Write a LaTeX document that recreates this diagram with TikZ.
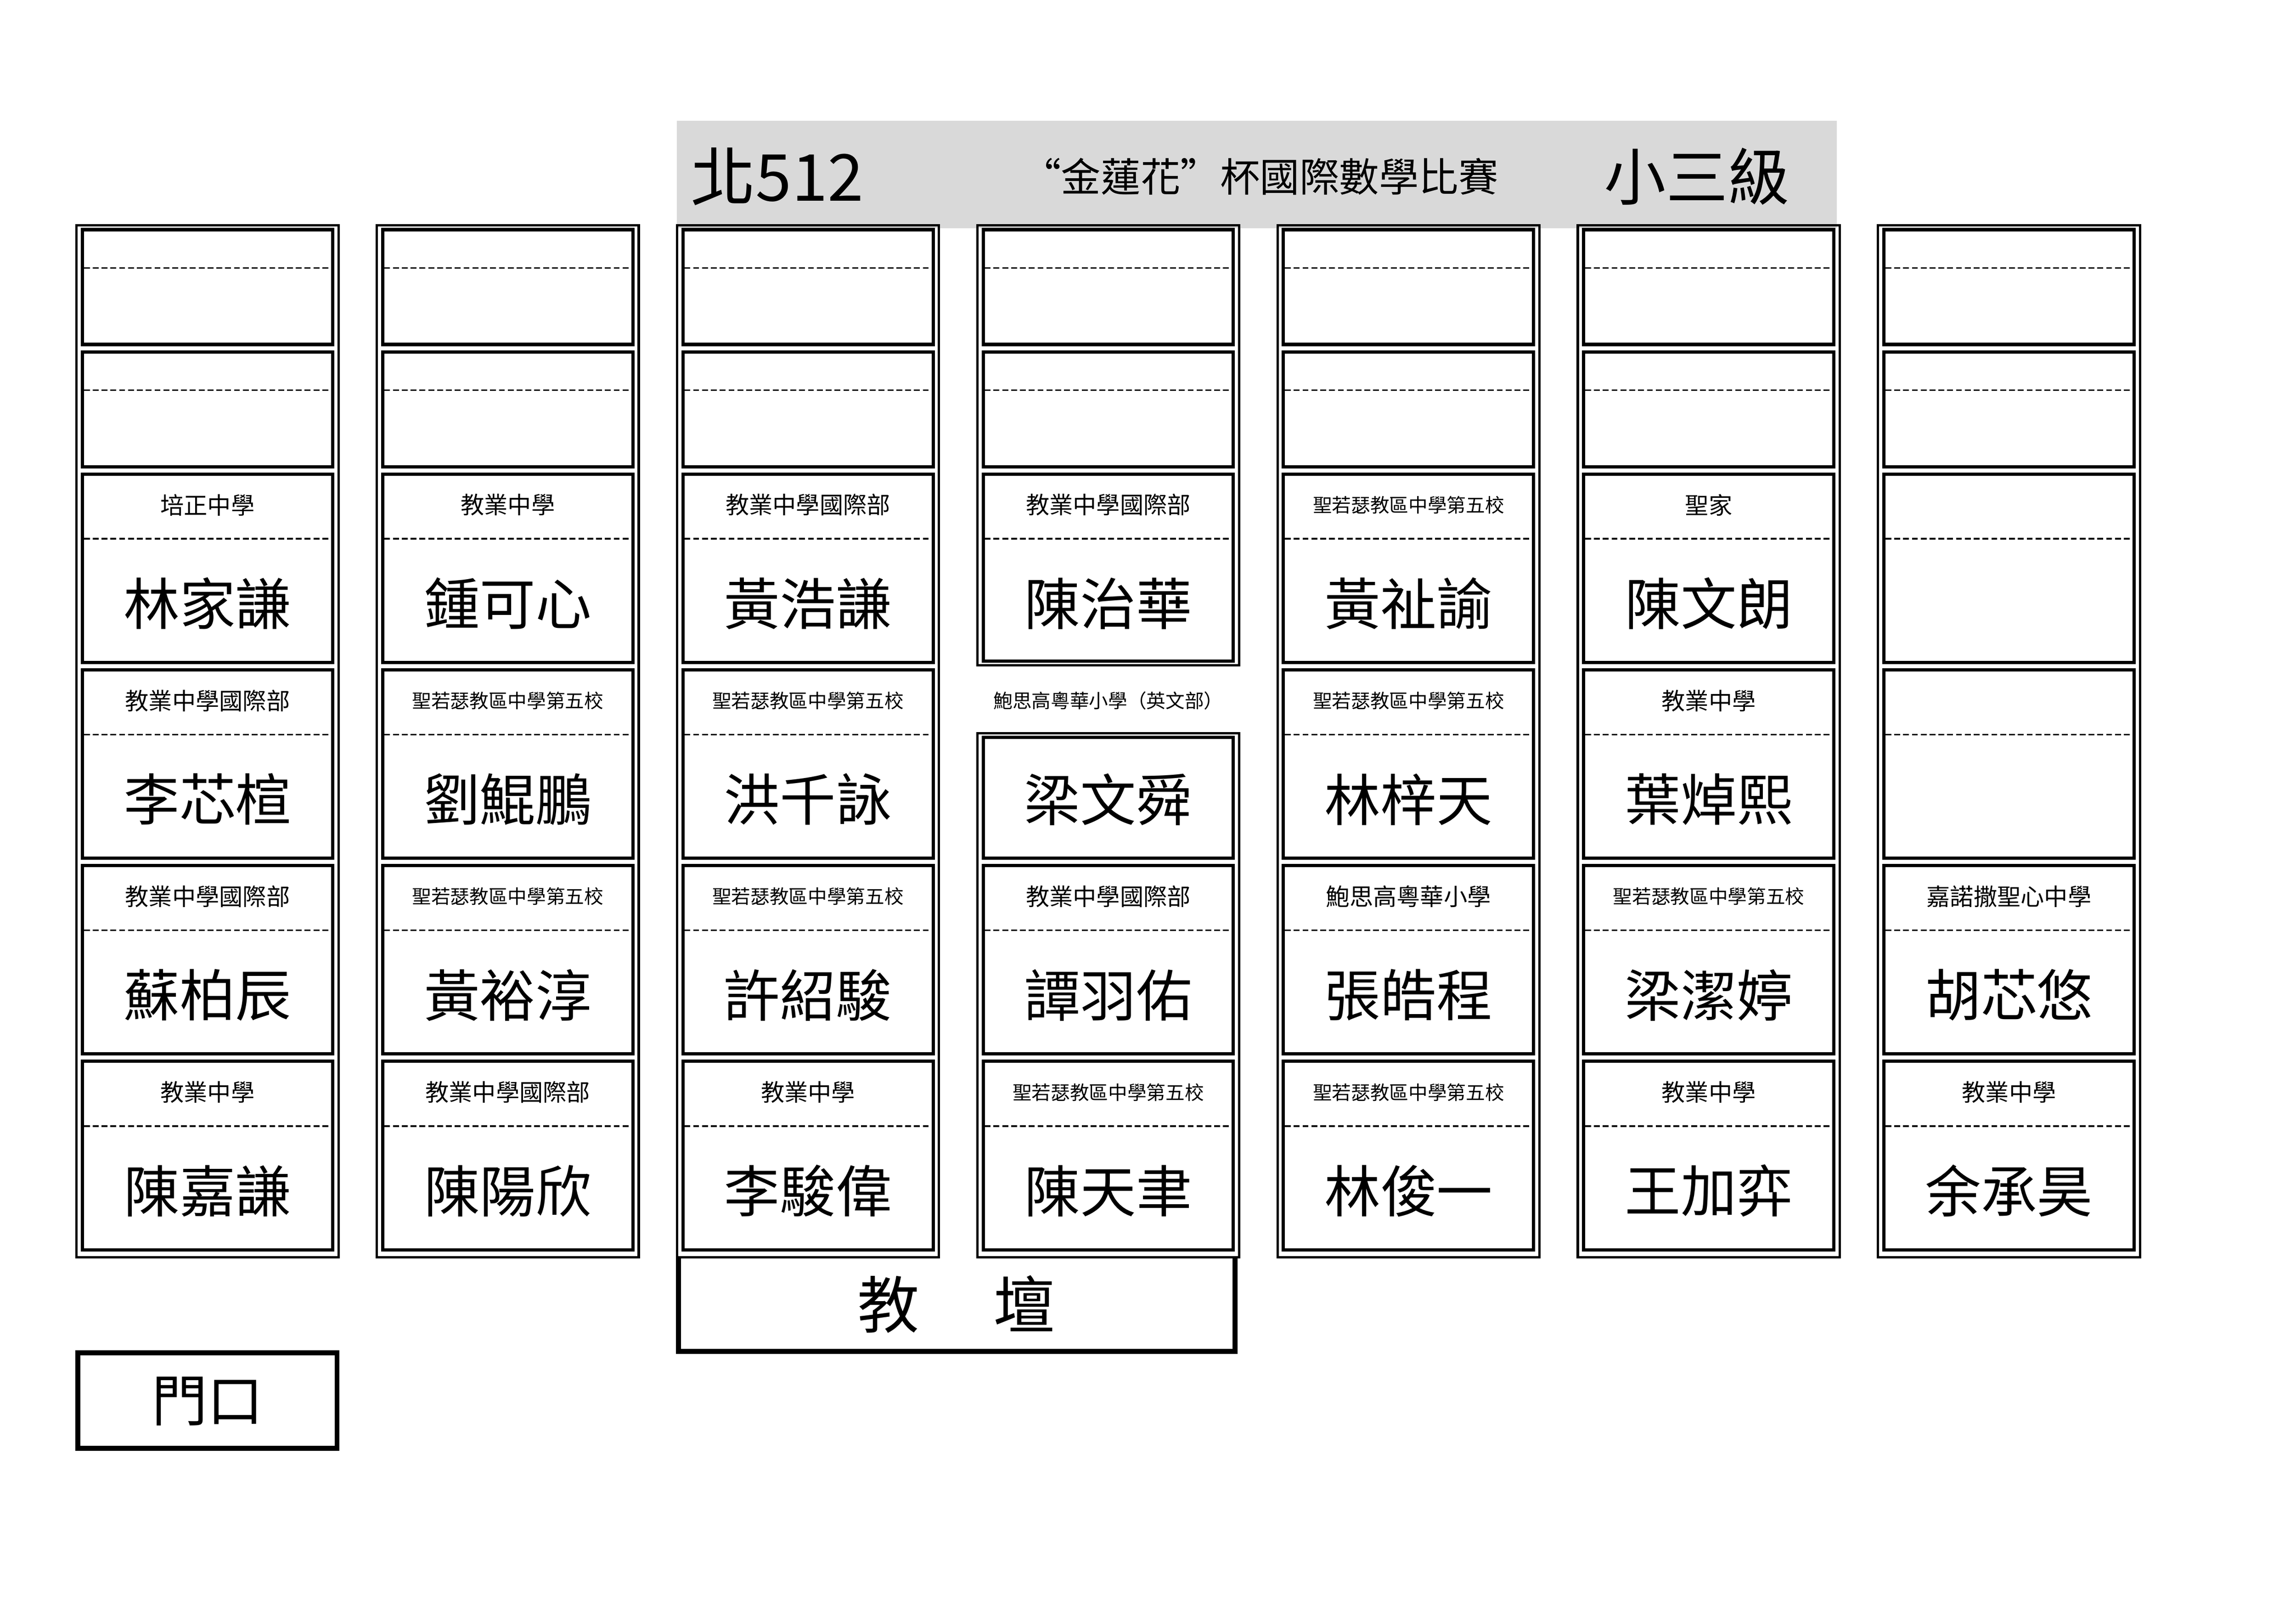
\documentclass[tikz,border=0pt]{standalone}
\usepackage{fontspec}
\setmainfont{Noto Sans CJK TC}
\usepackage{tikz}

\newcommand\fs[1]{\fontsize{#1}{#1}\selectfont}
\newcommand\sm{\fs{13}}
% outer double frame of one column
\newcommand\colframe[3]{\draw[outerline] (#1,-#2) rectangle (#1+178,-#3);}
% empty seat
\newcommand\blankseat[2]{%
  \draw[innerline] (#1+4,-#2-3) rectangle (#1+174,-#2-81);
  \draw[cutline] (#1+5,-#2-29) -- (#1+173,-#2-29);}
% seat with school and name
\newcommand\seat[5]{%
  \draw[innerline] (#1+4,-#2-3) rectangle (#1+174,-#2-131);
  \draw[cutline] (#1+5,-#2-47) -- (#1+173,-#2-47);
  \node[school] (s#5) at (#1+89,-#2-24) {#3};
  \node[pupil] (n#5) at (#1+89,-#2-91) {#4};}

\begin{document}
\begin{tikzpicture}[x=1pt,y=1pt,
    outerline/.style={line width=1.6pt},
    innerline/.style={line width=2.2pt},
    cutline/.style={line width=1.1pt,dash pattern=on 4pt off 2pt},
    school/.style={font=\fs{16}},
    pupil/.style={font=\fs{38}},
    thickbox/.style={line width=3.4pt}]
  \useasboundingbox (0,0) rectangle (1560,-1103);
  \fill[gray!30] (460,-82) rectangle (1248,-155);
  \node[anchor=west,font=\fs{44}] (room) at (466,-120) {北512};
  \node[font=\fs{27}] (contest) at (856,-120) {“金蓮花”杯國際數學比賽};
  \node[font=\fs{42}] (grade) at (1153,-120) {小三級};

  % columns
  \foreach \x in {52,256,460,868,1072,1276} {
    \colframe{\x}{153}{854}
    \blankseat{\x}{153}
    \blankseat{\x}{236}
  }
  \colframe{664}{153}{452}
  \colframe{664}{498}{854}
  \blankseat{664}{153}
  \blankseat{664}{236}

  \seat{52}{319}{培正中學}{林家謙}{11}
  \seat{52}{452}{教業中學國際部}{李芯楦}{12}
  \seat{52}{585}{教業中學國際部}{蘇柏辰}{13}
  \seat{52}{718}{教業中學}{陳嘉謙}{14}

  \seat{256}{319}{教業中學}{鍾可心}{21}
  \seat{256}{452}{\sm 聖若瑟教區中學第五校}{劉鯤鵬}{22}
  \seat{256}{585}{\sm 聖若瑟教區中學第五校}{黃裕淳}{23}
  \seat{256}{718}{教業中學國際部}{陳陽欣}{24}

  \seat{460}{319}{教業中學國際部}{黃浩謙}{31}
  \seat{460}{452}{\sm 聖若瑟教區中學第五校}{洪千詠}{32}
  \seat{460}{585}{\sm 聖若瑟教區中學第五校}{許紹駿}{33}
  \seat{460}{718}{教業中學}{李駿偉}{34}

  \draw[innerline] (668,-322) rectangle (838,-449);
  \draw[cutline] (669,-366) -- (837,-366);
  \node[school] (s41) at (753,-343) {教業中學國際部};
  \node[pupil] (n41) at (753,-410) {陳治華};
  \node[school,font=\sm] (s42) at (753,-476) {鮑思高粵華小學（英文部）};
  \draw[innerline] (668,-501) rectangle (838,-583);
  \draw[cutline] (664,-498) -- (842,-498);
  \node[pupil] (n42) at (753,-543) {梁文舜};
  \seat{664}{585}{教業中學國際部}{譚羽佑}{43}
  \seat{664}{718}{\sm 聖若瑟教區中學第五校}{陳天聿}{44}

  \seat{868}{319}{\sm 聖若瑟教區中學第五校}{黃祉諭}{51}
  \seat{868}{452}{\sm 聖若瑟教區中學第五校}{林梓天}{52}
  \seat{868}{585}{鮑思高粵華小學}{張皓程}{53}
  \seat{868}{718}{\sm 聖若瑟教區中學第五校}{林俊一}{54}

  \seat{1072}{319}{聖家}{陳文朗}{61}
  \seat{1072}{452}{教業中學}{葉焯熙}{62}
  \seat{1072}{585}{\sm 聖若瑟教區中學第五校}{梁潔婷}{63}
  \seat{1072}{718}{教業中學}{王加弈}{64}

  \seat{1276}{319}{}{}{71}
  \seat{1276}{452}{}{}{72}
  \seat{1276}{585}{嘉諾撒聖心中學}{胡芯悠}{73}
  \seat{1276}{718}{教業中學}{余承昊}{74}

  % podium and door
  \draw[thickbox] (461,-854) -- (461,-918) -- (839,-918) -- (839,-854);
  \node[font=\fs{42}] (podium) at (650,-886) {教\hspace{1.2em}壇};
  \draw[thickbox] (53,-919) rectangle (229,-984);
  \node[font=\fs{38}] (door) at (141,-952) {門口};
\end{tikzpicture}
\end{document}
